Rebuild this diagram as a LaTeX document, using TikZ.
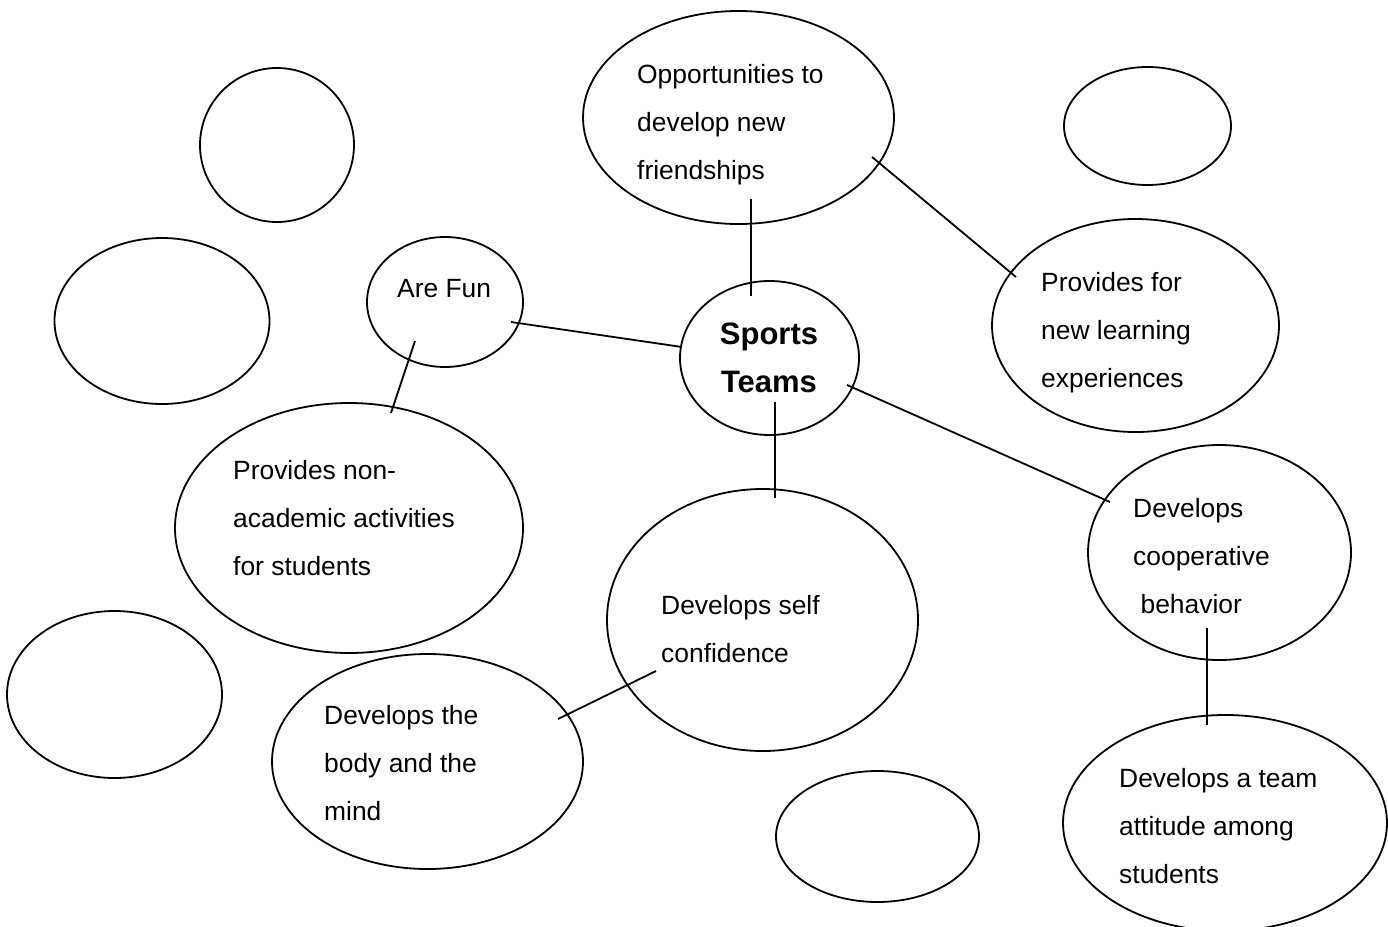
\documentclass[tikz,border=0pt]{standalone}
\usepackage{fontspec}
\setmainfont{Liberation Sans}
\usetikzlibrary{shapes.geometric,calc}
\tikzset{
  bub/.style={draw, ellipse, line width=1.8pt, inner sep=0pt},
  link/.style={line width=1.8pt},
  lbl/.style={align=left, anchor=base west, inner sep=0pt, font={\fontsize{26.4pt}{48pt}\selectfont}},
  hub/.style={align=center, anchor=base, inner sep=0pt, font={\fontsize{31pt}{48pt}\selectfont\bfseries}}
}
\begin{document}
\begin{tikzpicture}[x=1pt, y=-1pt]
\useasboundingbox (0,0) rectangle (1388,926);
% ellipses
\node[bub, minimum width=154pt, minimum height=154pt] (tl) at (277,145) {};
\node[bub, minimum width=215pt, minimum height=166pt] (lft) at (162,321) {};
\node[bub, minimum width=156pt, minimum height=130pt] (fun) at (445,302) {};
\node[bub, minimum width=311pt, minimum height=213pt] (opp) at (738.5,117.5) {};
\node[bub, minimum width=167pt, minimum height=118pt] (tr) at (1147.5,126) {};
\node[bub, minimum width=287pt, minimum height=213pt] (learn) at (1135.5,325.5) {};
\node[bub, minimum width=179pt, minimum height=154pt] (sports) at (769.5,358) {};
\node[bub, minimum width=348pt, minimum height=250pt] (nonacad) at (349,528) {};
\node[bub, minimum width=311pt, minimum height=262pt] (conf) at (762.5,620) {};
\node[bub, minimum width=263pt, minimum height=215pt] (coop) at (1219.5,552.5) {};
\node[bub, minimum width=215pt, minimum height=167pt] (bl) at (114.5,694.5) {};
\node[bub, minimum width=311pt, minimum height=215pt] (body) at (427.5,761.5) {};
\node[bub, minimum width=203pt, minimum height=131pt] (bs) at (877.5,836.5) {};
\node[bub, minimum width=324pt, minimum height=216pt] (team) at (1225,823) {};
% texts (anchored at the baseline of the last line)
\node[lbl] (toppt) at (637,179) {Opportunities to\\develop new\\friendships};
\node[lbl] (tlearn) at (1041,387) {Provides for\\new learning\\experiences};
\node[lbl] (tfun) at (397,297) {Are Fun};
\node[hub] (tsports) at (769,392) {Sports\\Teams};
\node[lbl] (tnon) at (233,575) {Provides non-\\academic activities\\for students};
\node[lbl] (tconf) at (661,662) {Develops self\\confidence};
\node[lbl] (tbody) at (324,820) {Develops the\\body and the\\mind};
\node[lbl] (tcoop) at (1133,613) {Develops\\cooperative\\\hspace*{0.28em}behavior};
\node[lbl] (tteam) at (1119,883) {Develops a team\\attitude among\\students};
% connectors
\draw[link] ($(opp)+(12.5,81.5)$) -- ($(sports)+(-18.5,-62)$);
\draw[link] ($(opp)+(133.5,39.5)$) -- ($(learn)+(-119.5,-48.5)$);
\draw[link] ($(fun)+(66,20)$) -- ($(sports)+(-87.5,-11)$);
\draw[link] ($(fun)+(-30,39)$) -- ($(nonacad)+(42,-115)$);
\draw[link] ($(sports)+(77.5,27)$) -- ($(coop)+(-109.5,-50.5)$);
\draw[link] ($(sports)+(5.5,44)$) -- ($(conf)+(12.5,-122)$);
\draw[link] ($(conf)+(-106.5,51)$) -- ($(body)+(130.5,-42.5)$);
\draw[link] ($(coop)+(-12.5,75.5)$) -- ($(team)+(-18,-98)$);
\end{tikzpicture}
\end{document}
